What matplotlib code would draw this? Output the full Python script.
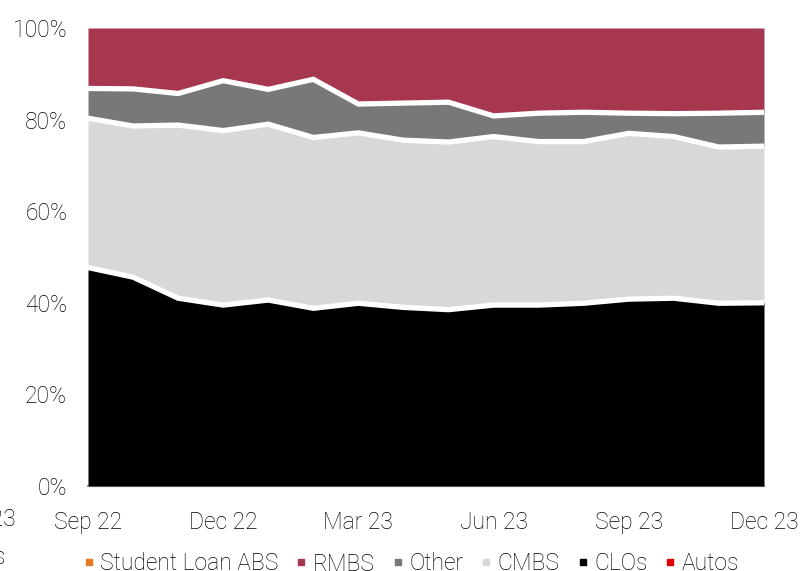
import matplotlib
matplotlib.use("Agg")
import matplotlib.pyplot as plt
from matplotlib.lines import Line2D
import numpy as np

plt.rcParams['font.family'] = ['Roboto', 'DejaVu Sans']
plt.rcParams['font.weight'] = 'light'

months = ['Sep 22', 'Oct 22', 'Nov 22', 'Dec 22', 'Jan 23', 'Feb 23', 'Mar 23', 'Apr 23',
          'May 23', 'Jun 23', 'Jul 23', 'Aug 23', 'Sep 23', 'Oct 23', 'Nov 23', 'Dec 23']

# shares of the total, in %
clos = [47.7, 45.6, 41.0, 39.5, 40.6, 38.8, 39.9, 39.0, 38.5, 39.5, 39.5, 39.9, 40.8, 41.0, 39.9, 40.0]
cmbs = [32.6, 33.0, 37.8, 38.1, 38.4, 37.3, 37.2, 36.5, 36.6, 36.8, 35.7, 35.3, 36.2, 35.3, 34.1, 34.2]
other = [6.5, 8.1, 6.9, 10.9, 7.6, 12.7, 6.3, 8.1, 8.7, 4.5, 6.2, 6.4, 4.4, 5.0, 7.4, 7.4]
rmbs = [13.2, 13.3, 14.3, 11.5, 13.4, 11.2, 16.6, 16.4, 16.2, 19.2, 18.6, 18.4, 18.6, 18.7, 18.6, 18.4]
student_loan = [0.0] * 16
autos = [0.0] * 16

colors = {
    'Student Loan ABS': '#E87722',
    'RMBS': '#A6374F',
    'Other': '#787878',
    'CMBS': '#D8D8D7',
    'CLOs': '#000000',
    'Autos': '#E00000',
}

fs = 16.5

fig = plt.figure(figsize=(8.05, 5.71), dpi=100)
ax = fig.add_axes([88 / 805, 1 - 486 / 571, 676 / 805, 458 / 571])

x = np.arange(len(months))
stack = [('CLOs', clos), ('CMBS', cmbs), ('Other', other), ('RMBS', rmbs)]
base = np.zeros(len(x))
tops = []
for name, vals in stack:
    top = base + np.array(vals)
    ax.fill_between(x, base, top, color=colors[name], lw=0)
    tops.append(top)
    base = top

# white separators between layers
for top in tops[:-1]:
    ax.plot(x, top, color='white', lw=3.8, solid_joinstyle='miter')

ax.set_xlim(0, 15)
ax.set_ylim(0, 100)
ax.set_yticks(range(0, 101, 20))
ax.set_yticklabels([f'{v}%' for v in range(0, 101, 20)])
ax.set_xticks(x[::3])
ax.set_xticklabels(months[::3])
ax.tick_params(length=0, labelsize=fs, colors='#000000')
ax.tick_params(axis='x', pad=18)
ax.tick_params(axis='y', pad=15)

for s in ['top', 'right', 'left']:
    ax.spines[s].set_visible(False)
ax.spines['bottom'].set_color('#A0A0A0')
ax.spines['bottom'].set_linewidth(1.6)
ax.spines['bottom'].set_zorder(0)

names = ['Student Loan ABS', 'RMBS', 'Other', 'CMBS', 'CLOs', 'Autos']
handles = [Line2D([], [], marker='s', ls='', color=colors[n], markersize=4.5) for n in names]
fig.legend(handles, names,
           loc='center left', bbox_to_anchor=(84 / 805, 1 - 564 / 571), ncol=6,
           frameon=False, fontsize=fs, handlelength=0.4, handletextpad=0.3,
           columnspacing=0.8, borderaxespad=0, borderpad=0)

# remnants of the neighbouring chart cut off at the left edge
fig.text(16 / 805, 1 - 520 / 571, 'Dec 23', ha='right', va='center', fontsize=fs)
fig.text(6 / 805, 1 - 557 / 571, 'Autos', ha='right', va='center', fontsize=fs)

fig.savefig('out.png', dpi=100)
